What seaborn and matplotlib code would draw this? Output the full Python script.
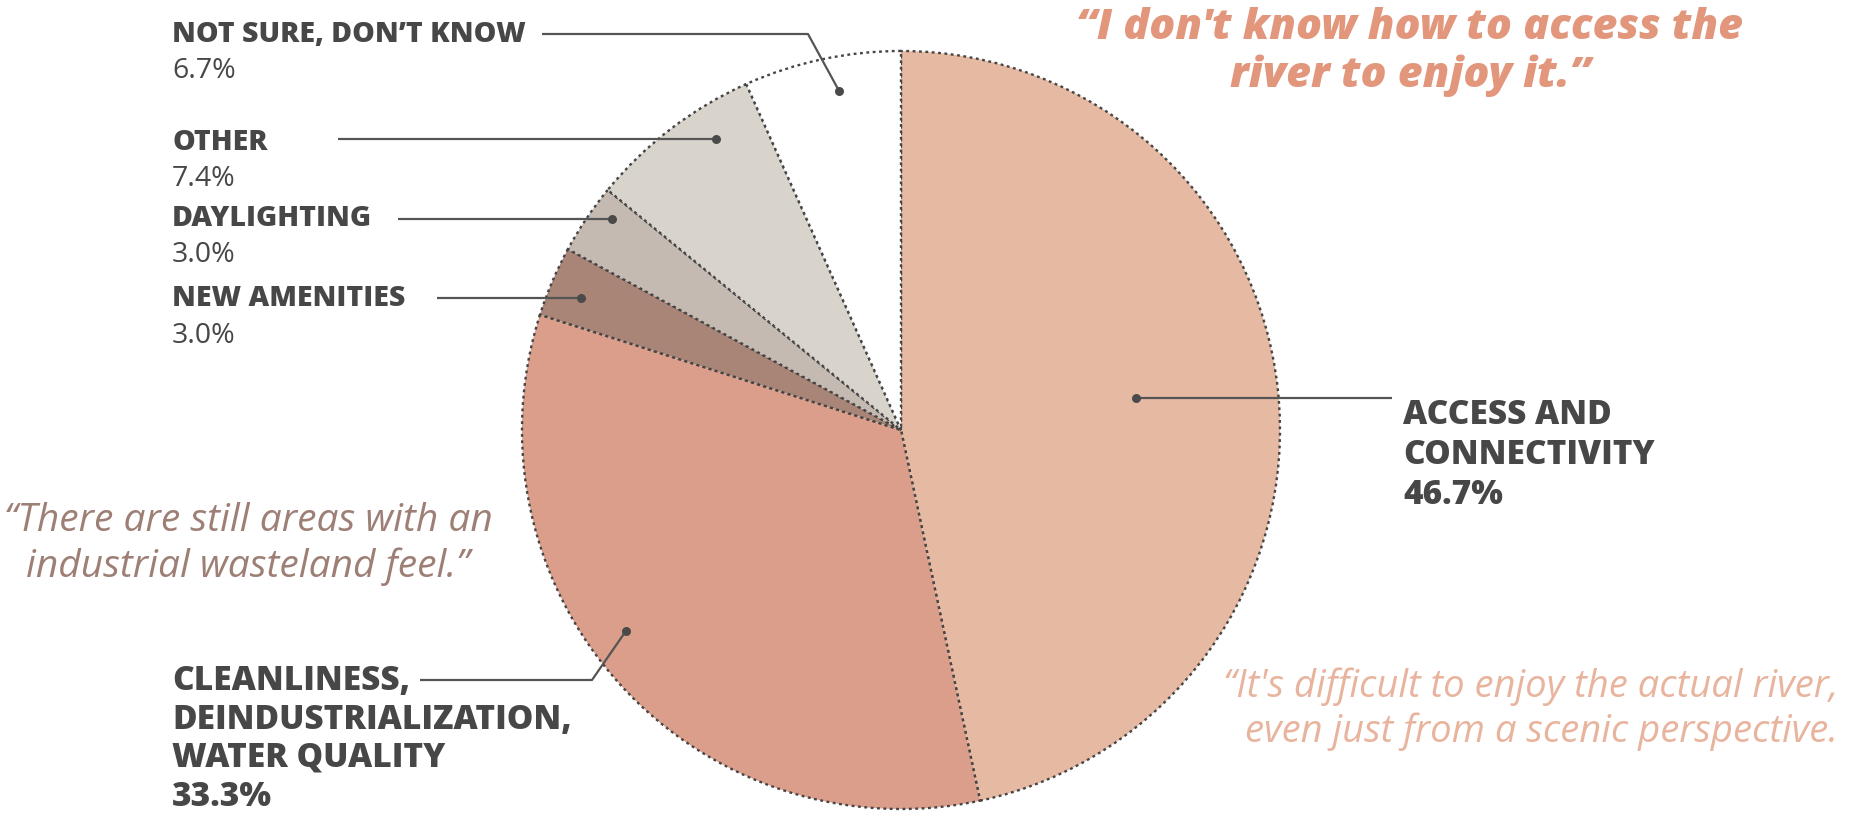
import numpy as np
import matplotlib
matplotlib.use("Agg")
import matplotlib.pyplot as plt
import seaborn as sns

# ---- data ----
categories = ["ACCESS AND\nCONNECTIVITY", "CLEANLINESS,\nDEINDUSTRIALIZATION,\nWATER QUALITY",
              "NEW AMENITIES", "DAYLIGHTING", "OTHER", "NOT SURE, DON\u2019T KNOW"]
values = [46.7, 33.3, 3.0, 3.0, 7.4, 6.7]
pct_labels = ["46.7%", "33.3%", "3.0%", "3.0%", "7.4%", "6.7%"]
colors = ["#E6B9A3", "#DA9E8B", "#A98577", "#C4BAB2", "#D8D3CB", "#FFFFFF"]

quote_top = "\u201cI don't know how to access the\nriver to enjoy it.\u201d"
quote_left = "\u201cThere are still areas with an\nindustrial wasteland feel.\u201d"
quote_right = "\u201cIt's difficult to enjoy the actual river,\neven just from a scenic perspective."

# ---- layout (pixels, image coordinates y down) ----
W, H = 1857, 815
CX, CY, R = 901, 430, 379
TXT = "#474747"
LINE = "#555555"

sns.set_theme(style="white")
plt.rcParams['font.family'] = ['Open Sans', 'DejaVu Sans']

fig = plt.figure(figsize=(W / 100, H / 100), dpi=100)
ax = fig.add_axes([0, 0, 1, 1])

def Y(y):
    return H - y

wedges, _ = ax.pie(values, colors=colors, startangle=90, counterclock=False,
                   center=(CX, Y(CY)), radius=R, frame=True,
                   wedgeprops=dict(edgecolor="#454545", linewidth=1.7, linestyle=(0, (1.2, 1.5))))
ax.set_xlim(0, W)
ax.set_ylim(0, H)
ax.set_aspect('equal')
ax.axis('off')

# anchor points inside each wedge: (fraction along wedge, radius fraction)
anchor = [(0.49, 0.625), (0.55, 0.90), (0.44, 0.913), (0.70, 0.944), (0.69, 0.91), (0.57, 0.91)]

def anchor_xy(i):
    w = wedges[i]
    t1, t2 = w.theta1, w.theta2
    f, rf = anchor[i]
    ang = np.deg2rad(t2 - f * (t2 - t1))
    return CX + rf * R * np.cos(ang), Y(CY) + rf * R * np.sin(ang)

# leader paths: points (image coords) after the anchor; ("h", x) = horizontal to x
leaders = {
    0: [("h", 1392)],
    1: [(592, 680), (420, 680)],
    2: [("h", 437)],
    3: [("h", 398)],
    4: [("h", 338)],
    5: [(808, 34), (542, 34)],
}
for i, path in leaders.items():
    ax0, ay0 = anchor_xy(i)
    xs, ys = [ax0], [ay0]
    for p in path:
        if p[0] == "h":
            xs.append(p[1]); ys.append(ay0)
        else:
            xs.append(p[0]); ys.append(Y(p[1]))
    ax.plot(xs, ys, color=LINE, lw=1.6, solid_capstyle='butt', zorder=5)
    ax.scatter([ax0], [ay0], s=42, color="#4a4a4a", zorder=6, linewidths=0)

# labels: (x, first line y, line spacing, fontsize)
label_pos = [(1403, 415, 40, 24), (172, 681, 38.5, 24), (172, 298, 38, 20.5),
             (172, 219, 36, 20.5), (172, 142, 37, 20.5), (172, 34, 37, 20.5)]
for i, (x, y0, dy, fs) in enumerate(label_pos):
    lines = categories[i].split("\n")
    for k, ln in enumerate(lines):
        ax.text(x, Y(y0 + k * dy), ln, fontsize=fs, fontweight='heavy', color=TXT,
                ha='left', va='center')
    big = i in (0, 1)
    ax.text(x, Y(y0 + len(lines) * dy), pct_labels[i], fontsize=fs,
            fontweight='heavy' if big else 'normal', color=TXT, ha='left', va='center')

# quotes
ax.text(1410, Y(52), quote_top, fontsize=31, fontweight='heavy', fontstyle='italic',
        color="#E2967C", ha='center', va='center', linespacing=1.15)
ax.text(248, Y(544), quote_left, fontsize=28, fontstyle='italic', color="#9E7F76",
        ha='center', va='center', linespacing=1.22)
ax.text(1838, Y(709), quote_right, fontsize=27.5, fontstyle='italic', color="#E8B49E",
        ha='right', va='center', linespacing=1.22)

fig.savefig("out.png", dpi=100, facecolor="white")
